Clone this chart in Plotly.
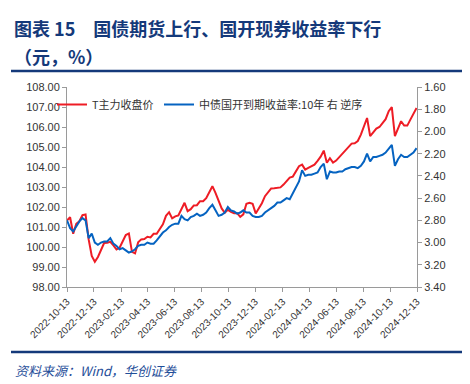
import pandas as pd
import plotly.graph_objects as go

# Weekly observations starting 2022-10-13
dates = pd.date_range(start="2022-10-13", periods=114, freq="7D")

t_price = [
    101.33, 101.49, 100.66, 101.16, 101.29, 101.59, 101.63, 100.38, 99.55, 99.26,
    99.50, 99.88, 100.20, 100.21, 100.26, 100.08, 99.88, 99.96, 100.30, 100.60,
    100.68, 99.76, 99.68, 100.23, 100.38, 100.40, 100.51, 100.48, 100.66, 100.66,
    100.90, 101.13, 101.56, 101.74, 101.43, 101.53, 101.58, 101.88, 102.21, 101.79,
    101.89, 102.08, 102.09, 102.29, 102.29, 102.44, 102.76, 103.04, 102.71, 102.33,
    101.93, 101.71, 101.86, 101.76, 101.69, 101.69, 101.51, 101.63, 102.16, 102.21,
    102.16, 101.68, 101.91, 102.19, 102.54, 102.71, 102.93, 102.94, 102.96, 102.98,
    103.12, 103.29, 103.47, 103.52, 103.76, 104.04, 104.12, 103.87, 103.96, 104.06,
    104.12, 104.31, 104.52, 104.82, 104.21, 104.44, 104.22, 104.32, 104.49, 104.67,
    104.81, 104.96, 105.17, 105.19, 105.30, 105.62, 105.99, 106.45, 105.54, 105.75,
    105.92, 106.00, 106.17, 106.39, 106.79, 106.99, 105.54, 105.95, 106.29, 106.07,
    106.07, 106.37, 106.69, 106.95,
]

cdb_yield = [
    2.80, 2.87, 2.90, 2.85, 2.81, 2.78, 2.80, 2.96, 2.92, 3.00,
    3.02, 3.00, 2.99, 2.99, 2.96, 3.01, 3.03, 3.06, 3.05, 3.07,
    3.09, 3.08, 3.06, 3.03, 3.02, 3.02, 3.00, 3.01, 3.01, 2.98,
    2.94, 2.91, 2.89, 2.86, 2.84, 2.83, 2.83, 2.76, 2.79, 2.80,
    2.77, 2.76, 2.74, 2.76, 2.75, 2.73, 2.69, 2.66, 2.71, 2.76,
    2.75, 2.73, 2.68, 2.71, 2.72, 2.74, 2.73, 2.71, 2.73, 2.73,
    2.76, 2.77, 2.77, 2.76, 2.73, 2.71, 2.69, 2.67, 2.64, 2.64,
    2.62, 2.60, 2.61, 2.56, 2.50, 2.45, 2.35, 2.40, 2.39, 2.39,
    2.38, 2.37, 2.32, 2.29, 2.43, 2.36, 2.37, 2.37, 2.36, 2.36,
    2.34, 2.33, 2.32, 2.32, 2.33, 2.31, 2.27, 2.20, 2.27, 2.23,
    2.23, 2.22, 2.21, 2.19, 2.15, 2.12, 2.31, 2.25, 2.21, 2.23,
    2.23, 2.21, 2.19, 2.15,
]

x_ticks = [
    "2022-10-13", "2022-12-13", "2023-02-13", "2023-04-13", "2023-06-13",
    "2023-08-13", "2023-10-13", "2023-12-13", "2024-02-13", "2024-04-13",
    "2024-06-13", "2024-08-13", "2024-10-13", "2024-12-13",
]
left_ticks = [98, 99, 100, 101, 102, 103, 104, 105, 106, 107, 108]
right_ticks = [1.6, 1.8, 2.0, 2.2, 2.4, 2.6, 2.8, 3.0, 3.2, 3.4]

name_t = "T主力收盘价"
name_y = "中债国开到期收益率:10年 右 逆序"
title1 = "图表 15　国债期货上行、国开现券收益率下行"
title2 = "（元，%）"
source = "资料来源：Wind，华创证券"

FONT = "Liberation Sans, Arial, Noto Sans CJK SC, sans-serif"
CJK = "Noto Sans CJK SC, sans-serif"
NAVY = "#14397A"
AX = "#9A9A9A"

fig = go.Figure()
fig.add_trace(go.Scatter(x=dates, y=t_price, name=name_t, mode="lines",
                         line=dict(color="#EE1C25", width=2), legend="legend"))
fig.add_trace(go.Scatter(x=dates, y=cdb_yield, name=name_y, mode="lines",
                         line=dict(color="#0563C1", width=2), yaxis="y2",
                         legend="legend2"))

W, H = 470, 384
L, R, T, B = 59, 409, 79, 279
pw, ph = R - L, B - T

def px(x):
    return (x - L) / pw

def py(y):
    return (B - y) / ph

leg_common = dict(orientation="h", xanchor="left", yanchor="top",
                  bgcolor="rgba(0,0,0,0)",
                  font=dict(family=CJK, size=11, color="#333333"),
                  itemwidth=30)

fig.update_layout(
    width=W, height=H,
    margin=dict(l=L, r=W - R, t=T, b=H - B),
    paper_bgcolor="white", plot_bgcolor="white",
    font=dict(family=FONT, size=11, color="#333333"),
    showlegend=True,
    legend=dict(x=px(44), y=py(82), **leg_common),
    legend2=dict(x=px(151), y=py(82), **leg_common),
    xaxis=dict(type="date", range=["2022-10-13", "2024-12-13"],
               tickvals=x_ticks, tickformat="%Y-%m-%d", tickangle=-45,
               showgrid=False, zeroline=False, showline=True, linecolor=AX, linewidth=1,
               ticks="outside", ticklen=4, tickcolor=AX,
               tickfont=dict(size=10, color="#333333")),
    yaxis=dict(range=[98, 108], tickvals=left_ticks, tickformat=".2f",
               showgrid=False, zeroline=False, showline=True, linecolor=AX, linewidth=1,
               ticks="outside", ticklen=4, tickcolor=AX,
               tickfont=dict(size=11, color="#333333")),
    yaxis2=dict(range=[3.4, 1.6], tickvals=right_ticks, tickformat=".2f",
                overlaying="y", side="right",
                showgrid=False, zeroline=False, showline=True, linecolor=AX, linewidth=1,
                ticks="outside", ticklen=4, tickcolor=AX,
                tickfont=dict(size=11, color="#333333")),
)

fig.add_shape(type="line", xref="paper", yref="paper",
              x0=px(3), x1=px(462), y0=py(63), y1=py(63),
              line=dict(color=NAVY, width=2.5))
fig.add_shape(type="line", xref="paper", yref="paper",
              x0=px(3), x1=px(462), y0=py(344), y1=py(344),
              line=dict(color=NAVY, width=2.5))

fig.add_annotation(text="<b>" + title1 + "</b>", xref="paper", yref="paper",
                   x=px(4), y=py(20), xanchor="left", yanchor="middle", showarrow=False,
                   font=dict(family=CJK, size=18, color=NAVY))
fig.add_annotation(text="<b>" + title2 + "</b>", xref="paper", yref="paper",
                   x=px(4), y=py(48), xanchor="left", yanchor="middle", showarrow=False,
                   font=dict(family=CJK, size=18, color=NAVY))
fig.add_annotation(text=source, xref="paper", yref="paper",
                   x=px(5), y=py(362), xanchor="left", yanchor="middle", showarrow=False,
                   font=dict(family=CJK, size=13, color="#1F4E99", style="italic"))

fig.write_html("out.html")
